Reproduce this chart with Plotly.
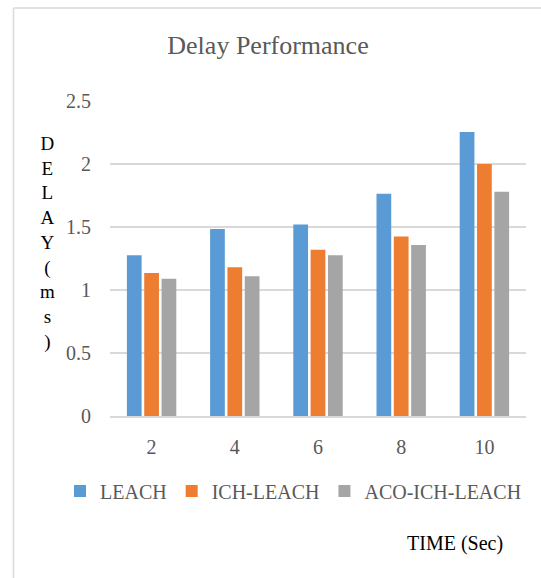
import plotly.graph_objects as go

times = ["2", "4", "6", "8", "10"]
leach = [1.275, 1.485, 1.52, 1.763, 2.253]
ich_leach = [1.135, 1.18, 1.32, 1.424, 2.0]
aco_ich_leach = [1.09, 1.11, 1.275, 1.357, 1.779]
series_names = ["LEACH", "ICH-LEACH", "ACO-ICH-LEACH"]
colors = ["#5B9BD5", "#ED7D31", "#A5A5A5"]

W, H = 541, 578
L, R, T, B = 110, 15, 101, 162
pw, ph = W - L - R, H - T - B

def px(x):
    return (x - L) / pw

def py(y):
    return (H - B - y) / ph

fig = go.Figure()
for name, vals, c in zip(series_names, [leach, ich_leach, aco_ich_leach], colors):
    fig.add_trace(go.Bar(x=times, y=vals, name=name, marker=dict(color=c, line=dict(width=0))))

font_family = "Liberation Serif"
fig.update_layout(
    width=W, height=H,
    margin=dict(l=L, r=R, t=T, b=B, pad=0),
    paper_bgcolor="white", plot_bgcolor="white",
    barmode="group", bargap=0.375, bargroupgap=0.15,
    font=dict(family=font_family, size=20, color="#595959"),
    title=dict(text="Delay Performance", x=268 / W, xanchor="center",
               y=1 - 45 / H, yanchor="middle",
               font=dict(family=font_family, size=26, color="#595959")),
    xaxis=dict(showgrid=False, showline=True, linecolor="#D9D9D9", linewidth=1.5,
               ticks="", ticklabelstandoff=12,
               tickfont=dict(family=font_family, size=20, color="#595959")),
    yaxis=dict(range=[0, 2.5], dtick=0.5, showgrid=True, gridcolor="#D9D9D9", gridwidth=1.5,
               zeroline=False, showline=False, ticks="", ticklabelstandoff=18,
               tickfont=dict(family=font_family, size=20, color="#595959")),
    legend=dict(orientation="h", x=px(60), xanchor="left", y=py(491), yanchor="middle",
                font=dict(family=font_family, size=20, color="#595959"),
                bgcolor="rgba(0,0,0,0)", itemclick=False, tracegroupgap=0),
    showlegend=True,
)

fig.add_annotation(text="D<br>E<br>L<br>A<br>Y<br>(<br>m<br>s<br>)", xref="paper", yref="paper",
                   x=px(47), y=py(243.5), xanchor="center", yanchor="middle", showarrow=False,
                   align="center", font=dict(family=font_family, size=19, color="black"))
fig.add_annotation(text="TIME (Sec)", xref="paper", yref="paper",
                   x=px(455), y=py(543), xanchor="center", yanchor="middle", showarrow=False,
                   font=dict(family=font_family, size=20, color="black"))

# outer chart frame (left and top edges)
fig.add_shape(type="line", xref="paper", yref="paper", x0=px(13.5), x1=px(13.5), y0=py(8), y1=py(600),
              line=dict(color="#D9D9D9", width=1.5))
fig.add_shape(type="line", xref="paper", yref="paper", x0=px(13.5), x1=px(560), y0=py(8), y1=py(8),
              line=dict(color="#D9D9D9", width=1.5))

fig.write_html("out.html", config={"displayModeBar": False})

with open("out.html", "r", encoding="utf-8") as f:
    html = f.read()
html = html.replace("<head>", "<head><style>html,body{margin:0;padding:0;overflow:hidden;}</style>", 1)
with open("out.html", "w", encoding="utf-8") as f:
    f.write(html)
